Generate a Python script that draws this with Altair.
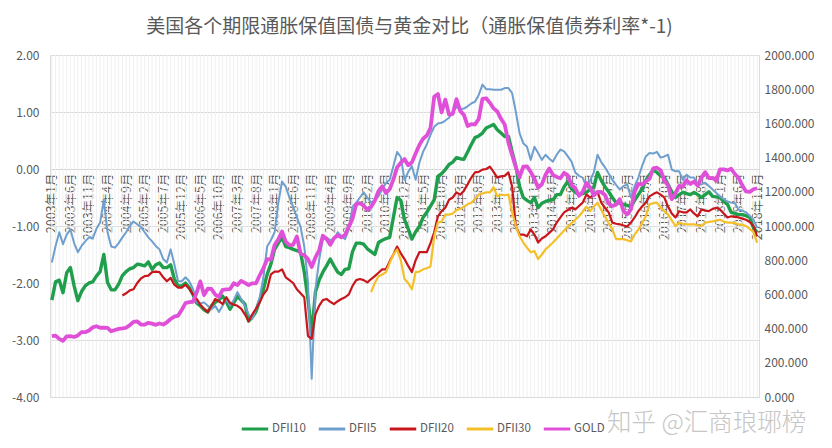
import altair as alt
import pandas as pd

TITLE = "美国各个期限通胀保值国债与黄金对比（通胀保值债券利率*-1)"
WATERMARK = "知乎 @汇商琅琊榜"

months = [f"{y}年{m}月" for y in range(2003, 2019) for m in range(1, 13)][:191]
tick_labels = months[::5]

dfii10 = [
    -2.30, -1.98, -1.95, -2.17, -1.82, -1.73, -2.05, -2.31, -2.15, -2.05, -2.00, -1.98,
    -1.88, -1.80, -1.50, -1.99, -2.12, -2.12, -2.02, -1.87, -1.80, -1.75, -1.73, -1.67,
    -1.68, -1.70, -1.63, -1.76, -1.68, -1.65, -1.73, -1.73, -1.68, -1.93, -2.05, -2.05,
    -2.00, -2.08, -2.20, -2.35, -2.40, -2.47, -2.51, -2.40, -2.34, -2.30, -2.23, -2.33,
    -2.46, -2.35, -2.23, -2.30, -2.37, -2.67, -2.60, -2.50, -2.30, -2.11, -1.85, -1.67,
    -1.41, -1.30, -1.20, -1.36, -1.38, -1.41, -1.43, -1.46, -1.81, -2.28, -2.90, -2.16,
    -1.95, -1.81, -1.70, -1.58, -1.70, -1.81, -1.85, -1.76, -1.75, -1.45, -1.30, -1.30,
    -1.32, -1.40, -1.45, -1.50, -1.29, -1.25, -1.22, -1.20, -0.85, -0.50, -0.55, -0.89,
    -1.05, -1.23, -1.10, -1.01, -0.85, -0.76, -0.65, -0.54, -0.13, -0.08, -0.01, 0.08,
    0.12, 0.20, 0.18, 0.17, 0.30, 0.43, 0.55, 0.58, 0.63, 0.72, 0.75, 0.78,
    0.69, 0.63, 0.57, 0.57, 0.30, 0.05, -0.31, -0.50, -0.55, -0.59, -0.50, -0.68,
    -0.60, -0.57, -0.55, -0.54, -0.45, -0.45, -0.31, -0.22, -0.35, -0.41, -0.45, -0.43,
    -0.41, -0.36, -0.32, -0.06, -0.20, -0.31, -0.40, -0.50, -0.59, -0.60, -0.62, -0.64,
    -0.66, -0.55, -0.45, -0.35, -0.20, -0.10, -0.02, -0.06, -0.12, -0.15, -0.27, -0.40,
    -0.50, -0.45, -0.41, -0.43, -0.45, -0.41, -0.45, -0.50, -0.45, -0.40, -0.48, -0.49,
    -0.50, -0.57, -0.62, -0.76, -0.78, -0.80, -0.80, -0.82, -0.85, -1.03, -1.11,
]

dfii5 = [
    -1.64, -1.35, -1.11, -1.32, -1.15, -1.06, -1.30, -1.46, -1.35, -1.27, -1.20, -1.22,
    -1.05, -0.94, -0.54, -1.11, -1.36, -1.38, -1.30, -1.20, -1.11, -1.00, -0.92, -0.97,
    -1.02, -1.11, -1.20, -1.27, -1.35, -1.41, -1.58, -1.64, -1.41, -1.67, -1.97, -1.97,
    -1.90, -1.97, -2.10, -2.34, -2.36, -2.34, -2.40, -2.46, -2.40, -2.51, -2.40, -2.28,
    -2.40, -2.30, -2.16, -2.28, -2.40, -2.55, -2.63, -2.45, -2.25, -1.90, -1.36, -1.25,
    -1.11, -0.60, -0.22, -0.31, -0.50, -0.66, -0.85, -1.01, -1.36, -1.99, -3.68, -2.11,
    -1.60, -1.23, -1.20, -1.25, -1.23, -1.11, -1.18, -1.23, -1.06, -0.66, -0.59, -0.50,
    -0.41, -0.50, -0.59, -0.55, -0.48, -0.35, -0.25, -0.19, 0.05, 0.30, 0.21, -0.19,
    -0.05, 0.05, -0.19, 0.11, 0.30, 0.43, 0.60, 0.74, 0.80, 0.81, 0.85, 0.90,
    1.00, 1.09, 1.05, 1.06, 1.10, 1.15, 1.18, 1.30, 1.48, 1.40, 1.40, 1.39,
    1.39, 1.39, 1.42, 1.42, 1.33, 1.00, 0.63, 0.45, 0.39, 0.16, 0.39, 0.28,
    0.16, 0.25, 0.18, 0.13, 0.25, 0.34, 0.31, 0.22, 0.13, -0.06, -0.12, -0.15,
    -0.31, -0.20, -0.06, 0.25, 0.12, 0.03, -0.08, -0.19, -0.28, -0.36, -0.30, -0.27,
    -0.50, -0.30, -0.15, 0.05, 0.22, 0.28, 0.27, 0.30, 0.20, 0.22, 0.25, -0.01,
    -0.04, -0.04, -0.19, -0.10, -0.15, -0.15, -0.27, -0.27, -0.24, -0.30, -0.36, -0.42,
    -0.48, -0.53, -0.57, -0.59, -0.60, -0.71, -0.73, -0.76, -0.82, -0.89, -1.03,
]

# DFII20 starts 2004年8月
dfii20_start = 19
dfii20 = [
    -2.22, -2.18, -2.13, -2.11, -2.00,
    -1.92, -1.88, -1.87, -1.81, -1.80, -1.81, -1.90, -1.97, -1.91, -2.03, -2.08, -2.08,
    -2.03, -2.10, -2.20, -2.28, -2.38, -2.45, -2.51, -2.40, -2.28, -2.32, -2.37, -2.25,
    -2.35, -2.38, -2.40, -2.45, -2.55, -2.67, -2.55, -2.45, -2.34, -2.20, -2.11, -1.85,
    -1.80, -1.80, -1.76, -1.90, -1.95, -2.00, -2.11, -2.18, -2.25, -2.93, -2.98, -2.55,
    -2.40, -2.30, -2.28, -2.33, -2.37, -2.32, -2.28, -2.25, -2.20, -2.05, -1.95, -1.93,
    -1.95, -1.99, -1.93, -1.88, -1.82, -1.76, -1.76, -1.62, -1.50, -1.36, -1.48, -1.58,
    -1.70, -1.81, -1.60, -1.46, -1.46, -1.46, -1.30, -1.11, -0.83, -0.74, -0.68, -0.54,
    -0.50, -0.41, -0.45, -0.38, -0.27, -0.15, -0.06, -0.05, -0.01, 0.00, 0.04, -0.05,
    -0.15, -0.13, -0.12, -0.06, -0.31, -1.01, -1.15, -1.15, -1.18, -1.06, -1.15, -1.29,
    -1.22, -1.18, -1.12, -1.06, -0.94, -0.85, -0.76, -0.72, -0.68, -0.71, -0.65, -0.59,
    -0.45, -0.50, -0.45, -0.40, -0.59, -0.68, -0.76, -0.94, -0.96, -0.97, -0.99, -1.01,
    -0.94, -0.85, -0.74, -0.66, -0.59, -0.48, -0.44, -0.41, -0.45, -0.50, -0.66, -0.78,
    -0.85, -0.74, -0.76, -0.76, -0.71, -0.78, -0.83, -0.71, -0.73, -0.74, -0.70, -0.68,
    -0.71, -0.78, -0.85, -0.83, -0.84, -0.85, -0.87, -0.89, -0.93, -1.00, -1.18,
]

# DFII30 starts 2010年3月
dfii30_start = 86
dfii30 = [
    -2.16, -2.00, -1.88, -1.85, -1.81, -1.65, -1.50, -1.41, -1.60, -1.93,
    -2.00, -2.11, -1.81, -1.80, -1.76, -1.74, -1.71, -1.18, -0.94, -0.92, -0.80, -0.80,
    -0.78, -0.72, -0.70, -0.66, -0.62, -0.59, -0.52, -0.45, -0.43, -0.41, -0.41, -0.32,
    -0.48, -0.45, -0.46, -0.45, -0.76, -1.00, -1.18, -1.29, -1.38, -1.46, -1.44, -1.58,
    -1.50, -1.41, -1.35, -1.29, -1.22, -1.15, -1.08, -1.01, -0.95, -0.89, -0.83, -0.75,
    -0.66, -0.74, -0.66, -0.59, -0.72, -0.83, -0.95, -1.06, -1.23, -1.23, -1.23, -1.25,
    -1.27, -1.15, -1.06, -0.95, -0.83, -0.62, -0.60, -0.59, -0.68, -0.74, -0.80, -0.90,
    -1.00, -0.94, -0.96, -0.97, -0.97, -0.97, -0.99, -1.00, -0.94, -0.93, -0.92, -0.90,
    -0.89, -0.92, -0.94, -0.94, -0.95, -0.97, -0.98, -1.00, -1.05, -1.11, -1.29,
]

gold = [
    356, 359, 340, 328, 355, 356, 351, 360, 379, 379, 389, 407,
    414, 405, 406, 404, 384, 392, 398, 401, 405, 420, 439, 442,
    424, 423, 434, 429, 422, 430, 424, 437, 456, 470, 476, 510,
    549, 555, 557, 610, 676, 596, 633, 632, 599, 585, 627, 629,
    631, 665, 655, 679, 667, 655, 665, 665, 712, 754, 806, 803,
    889, 922, 968, 909, 888, 890, 939, 839, 829, 806, 760, 816,
    858, 943, 924, 890, 929, 946, 934, 949, 996, 1043, 1127, 1134,
    1118, 1095, 1113, 1148, 1205, 1232, 1193, 1215, 1271, 1343, 1370, 1391,
    1356, 1372, 1424, 1474, 1510, 1529, 1572, 1756, 1772, 1665, 1739, 1652,
    1656, 1742, 1673, 1650, 1585, 1596, 1594, 1626, 1744, 1747, 1721, 1688,
    1670, 1627, 1593, 1487, 1414, 1343, 1286, 1347, 1349, 1316, 1275, 1225,
    1244, 1300, 1336, 1299, 1287, 1279, 1311, 1296, 1239, 1222, 1176, 1200,
    1251, 1227, 1179, 1199, 1199, 1181, 1131, 1117, 1125, 1157, 1086, 1068,
    1097, 1200, 1246, 1242, 1260, 1276, 1337, 1341, 1326, 1266, 1238, 1157,
    1192, 1234, 1231, 1267, 1246, 1260, 1236, 1283, 1315, 1280, 1282, 1265,
    1331, 1331, 1325, 1335, 1304, 1281, 1238, 1202, 1199, 1215, 1221,
]

series_names = ["DFII10", "DFII5", "DFII20", "DFII30", "GOLD"]
series_colors = ["#1f9e4b", "#6f9fcd", "#c8161d", "#f4c029", "#e04fd8"]
series_widths = {"DFII10": 3.4, "DFII5": 2.0, "DFII20": 2.2, "DFII30": 2.2, "GOLD": 3.8}

rows = []
for name, vals, start in [("DFII10", dfii10, 0), ("DFII5", dfii5, 0),
                          ("DFII20", dfii20, dfii20_start), ("DFII30", dfii30, dfii30_start)]:
    for k, v in enumerate(vals):
        rows.append({"month": months[start + k], "series": name, "value": v})
df_rates = pd.DataFrame(rows)
df_gold = pd.DataFrame({"month": months, "series": "GOLD", "gold": gold})
df_months = pd.DataFrame({"month": months})

FONT = "Noto Sans CJK SC"
GRAY = "#595959"

x_enc = alt.X(
    "month:O", sort=months, title=None,
    scale=alt.Scale(type="point", padding=0.5),
    axis=alt.Axis(values=tick_labels, orient="bottom", offset=-228, labelAngle=-90,
                  labelFont=FONT, labelFontSize=12.5, labelColor=GRAY, ticks=False,
                  domain=True, domainColor="#d0d0d0", grid=False, labelPadding=4,
                  labelOverlap=False, title=None),
)

legend = alt.Legend(orient="none", legendX=190, legendY=359, direction="horizontal",
                    title=None, symbolType="stroke", symbolStrokeWidth=3, symbolSize=700,
                    labelFont=FONT, labelFontSize=11.5, labelColor=GRAY, columnPadding=6,
                    labelOffset=2, padding=0)
color_enc = alt.Color("series:N", scale=alt.Scale(domain=series_names, range=series_colors),
                      legend=legend, sort=series_names)

y_left = alt.Y("value:Q", title=None,
               scale=alt.Scale(domain=[-4, 2], nice=False, zero=False),
               axis=alt.Axis(orient="left", values=[-4, -3, -2, -1, 0, 1, 2],
                             labelExpr="replace(format(datum.value, '.2f'), '\u2212', '-')",
                             grid=True, gridColor="#d9d9d9", domain=False, ticks=False,
                             labelPadding=11, labelFont=FONT, labelFontSize=12,
                             labelColor=GRAY, title=None))

vgrid = alt.Chart(df_months).mark_rule(color="#f0f0f0", strokeWidth=1).encode(x=x_enc)

rate_layers = []
for name in ["DFII10", "DFII5", "DFII20", "DFII30"]:
    rate_layers.append(
        alt.Chart(df_rates).transform_filter(alt.datum.series == name)
        .mark_line(strokeJoin="round", strokeWidth=series_widths[name])
        .encode(x=x_enc, y=y_left, color=color_enc)
    )
rates = alt.layer(*rate_layers)

gold_line = alt.Chart(df_gold).mark_line(strokeJoin="round", strokeWidth=series_widths["GOLD"]).encode(
    x=x_enc,
    y=alt.Y("gold:Q", title=None,
            scale=alt.Scale(domain=[0, 2000], nice=False),
            axis=alt.Axis(orient="right", values=list(range(0, 2001, 200)), format=".3f",
                          grid=False, domain=False, ticks=False, labelPadding=5,
                          labelFont=FONT, labelFontSize=12, labelColor=GRAY, title=None)),
    color=color_enc,
)

mark_text = alt.Chart(pd.DataFrame({"t": [WATERMARK]})).mark_text(
    font=FONT, fontSize=24.5, color="#c6c6c6", align="left", baseline="middle", fontWeight=300
).encode(text="t:N", x=alt.value(557), y=alt.value(369))

chart = alt.layer(vgrid, rates, gold_line, mark_text).resolve_scale(y="independent").properties(
    width=709, height=342,
    padding={"left": 42, "top": 47, "right": 65, "bottom": 40},
    autosize=alt.AutoSizeParams(type="none"),
    title=alt.Title(TITLE, font=FONT, fontSize=19, color=GRAY, fontWeight="normal",
                    anchor="middle", offset=12, dx=5),
).configure_view(stroke=None).configure(background="white")

chart.save("out.html", embed_options={"renderer": "svg", "actions": False})
